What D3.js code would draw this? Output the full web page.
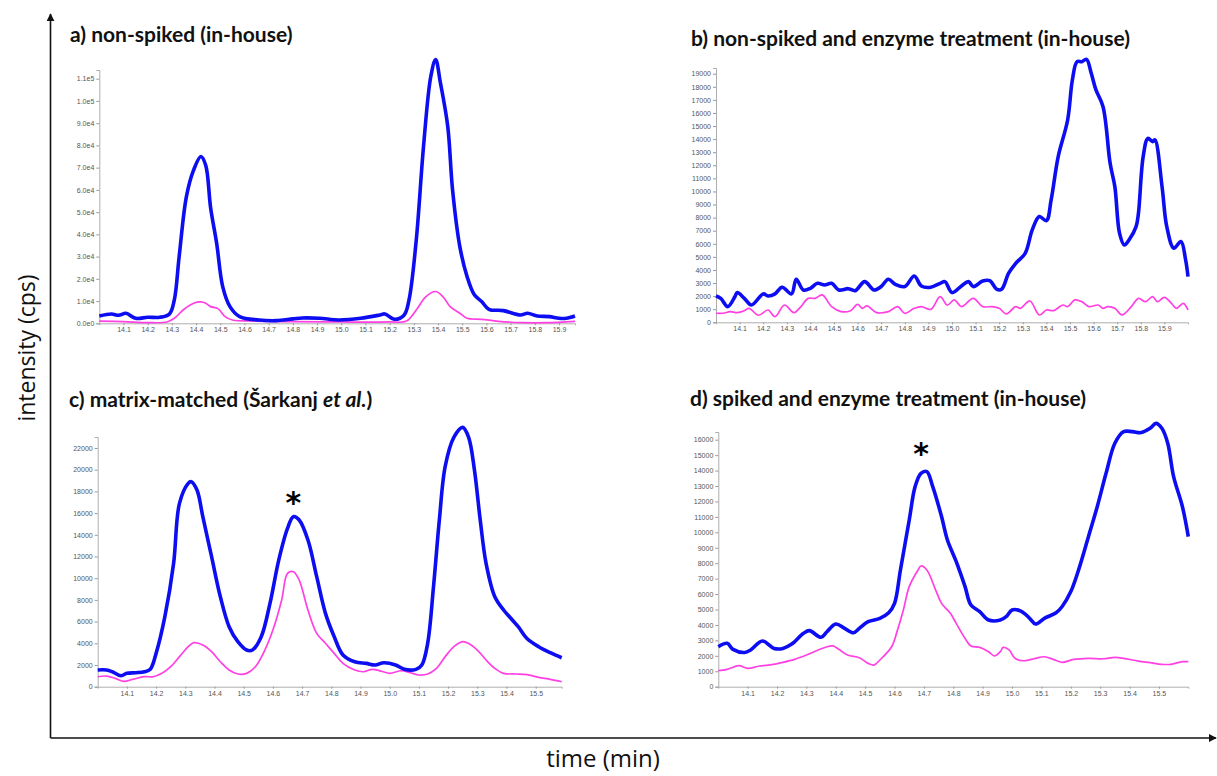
<!DOCTYPE html>
<html>
<head>
<meta charset="utf-8">
<script src="https://cdn.jsdelivr.net/npm/d3@7"></script>
<style>
  body { margin: 0; background: #fff; }
  svg { display: block; }
  .tick text { font-family: "Liberation Sans", Arial, sans-serif; font-size: 7px; }
  .title { font-family: Lato, "Open Sans", sans-serif; font-weight: bold; font-size: 21px; fill: #111; }
</style>
</head>
<body>
<svg id="chart" width="1217" height="776"></svg>
<script>
// ---- data (time in min, intensity in cps) ----

// a) non-spiked (in-house)
var aBlueT = [14.0,14.05,14.08,14.11,14.15,14.2,14.25,14.29,14.31,14.33,14.36,14.39,14.42,14.44,14.46,14.485,14.51,14.54,14.58,14.66,14.73,14.8,14.84,14.91,14.99,15.08,15.16,15.18,15.22,15.26,15.28,15.31,15.34,15.37,15.39,15.41,15.44,15.46,15.49,15.52,15.55,15.58,15.61,15.67,15.74,15.77,15.81,15.86,15.9,15.93,15.966];
var aBlueV = [3300,4200,3600,4500,2250,2700,2700,4200,10500,30000,57000,69000,75000,71000,52000,36000,16500,7500,3000,1500,1200,2000,2400,2250,1500,2250,3750,4200,1800,3750,10500,37500,79600,111000,118600,108000,88600,60000,34500,21000,12800,9800,6300,5700,3750,4500,3300,3000,2250,2250,3300];
var aPinkT = [14.0,14.1,14.2,14.28,14.31,14.35,14.39,14.42,14.44,14.46,14.49,14.52,14.55,14.65,14.8,15.0,15.2,15.27,15.31,15.35,15.39,15.42,15.45,15.49,15.52,15.58,15.65,15.75,15.85,15.966];
var aPinkV = [1000,750,300,600,2250,6300,9000,9600,9000,7500,6600,3000,1500,1000,750,600,600,1000,6000,12000,14300,12000,7500,4500,2250,1800,900,300,300,900];

// b) non-spiked and enzyme treatment (in-house)
var bBlueT = [14.0,14.02,14.05,14.08,14.09,14.12,14.15,14.2,14.22,14.25,14.28,14.32,14.34,14.37,14.4,14.43,14.46,14.49,14.52,14.56,14.59,14.63,14.67,14.7,14.73,14.76,14.8,14.84,14.87,14.91,14.95,14.97,15.0,15.04,15.07,15.09,15.13,15.16,15.19,15.21,15.24,15.27,15.31,15.34,15.37,15.4,15.42,15.45,15.49,15.51,15.53,15.55,15.57,15.59,15.61,15.64,15.67,15.69,15.71,15.73,15.75,15.78,15.79,15.81,15.83,15.85,15.86,15.89,15.91,15.94,15.97,15.99,16.0];
var bBlueV = [2010,1830,1200,1960,2270,1830,1320,2170,2010,2170,2680,2170,3290,2470,2600,2980,2850,2980,2470,2570,2420,3110,2470,2730,3290,2900,2730,3540,2780,2680,2980,3110,2270,2780,3110,2730,3160,3180,2520,2520,3750,4510,5270,7060,8080,7770,9350,12660,15460,18520,19920,19920,20100,19030,17760,16480,12150,10370,6800,5910,6290,7310,8330,12660,14060,13810,13940,10370,7310,5660,6170,4760,3490];
var bPinkT = [14.0,14.03,14.06,14.09,14.12,14.14,14.18,14.22,14.25,14.29,14.33,14.36,14.39,14.42,14.45,14.49,14.53,14.57,14.6,14.62,14.64,14.68,14.73,14.77,14.8,14.84,14.87,14.91,14.95,14.98,15.01,15.04,15.09,15.13,15.17,15.2,15.23,15.27,15.29,15.33,15.37,15.4,15.43,15.47,15.49,15.52,15.55,15.58,15.62,15.64,15.66,15.69,15.72,15.76,15.79,15.82,15.85,15.87,15.9,15.93,15.95,15.98,16.0];
var bPinkV = [690,690,820,740,890,1070,540,940,430,1320,740,1200,1830,1830,2090,1200,820,890,1380,1070,1250,740,820,1200,690,1070,1200,990,1960,1320,1710,1200,1830,1200,1200,1070,640,1200,1070,1630,560,940,890,1320,1200,1710,1580,1200,1320,1070,1200,1070,560,1200,1830,1580,1960,1580,1910,1450,1070,1450,940];

// c) matrix-matched (Sarkanj et al.)
var cBlueT = [14.0,14.03,14.05,14.08,14.1,14.13,14.16,14.18,14.2,14.23,14.26,14.28,14.31,14.32,14.34,14.36,14.39,14.42,14.45,14.48,14.51,14.53,14.56,14.59,14.62,14.65,14.67,14.69,14.72,14.75,14.78,14.81,14.84,14.88,14.92,14.95,14.98,15.02,15.05,15.09,15.11,15.13,15.15,15.17,15.19,15.22,15.25,15.27,15.29,15.31,15.33,15.36,15.39,15.41,15.44,15.47,15.51,15.55,15.589];
var cBlueV = [1540,1540,1380,1010,1230,1290,1380,1600,3070,6450,11370,16900,18740,18900,18130,15670,11980,8290,5530,4150,3380,3380,4610,7680,11670,14590,15670,15360,13520,10140,6760,4610,2920,2300,2150,2000,2210,2000,1600,1600,2000,4000,9220,15360,20300,23000,23900,23000,20000,15360,11370,8290,7070,6450,5530,4450,3690,3130,2670];
var cPinkT = [14.0,14.03,14.06,14.09,14.12,14.16,14.19,14.22,14.25,14.28,14.31,14.33,14.36,14.39,14.42,14.45,14.48,14.51,14.54,14.57,14.6,14.63,14.65,14.67,14.69,14.72,14.75,14.78,14.81,14.84,14.88,14.91,14.94,14.97,15.0,15.04,15.07,15.1,15.13,15.16,15.19,15.22,15.25,15.27,15.3,15.33,15.36,15.39,15.43,15.47,15.51,15.55,15.589];
var cPinkV = [920,980,770,490,680,920,920,1230,1840,2770,3690,4060,3840,3230,2300,1540,1170,1230,1840,3230,5220,7990,10450,10600,9830,7070,4920,4000,3070,2150,1540,1380,1600,1440,1230,1470,1290,1080,1170,1690,2770,3690,4150,3990,3380,2460,1690,1230,1170,1110,860,680,460];

// d) spiked and enzyme treatment (in-house)
var dBlueT = [14.0,14.03,14.05,14.09,14.11,14.15,14.19,14.22,14.25,14.29,14.31,14.35,14.37,14.4,14.43,14.46,14.48,14.51,14.55,14.58,14.6,14.62,14.65,14.67,14.69,14.71,14.73,14.76,14.78,14.81,14.84,14.86,14.89,14.92,14.96,14.98,15.0,15.03,15.06,15.08,15.11,15.15,15.17,15.2,15.23,15.26,15.29,15.32,15.35,15.38,15.41,15.44,15.47,15.49,15.51,15.53,15.55,15.58,15.6];
var dBlueV = [2590,2810,2420,2220,2380,2960,2480,2480,2760,3460,3630,3200,3560,4060,3780,3500,3780,4210,4430,4790,5400,7560,10800,12960,13820,13930,12960,11020,9500,8100,6480,5290,4860,4320,4320,4540,4970,4900,4430,4060,4430,4790,5180,6160,7780,9720,11660,13820,15770,16520,16520,16460,16740,17060,16740,15770,13610,11660,9720];
var dPinkT = [14.0,14.03,14.07,14.1,14.14,14.17,14.22,14.26,14.3,14.34,14.37,14.39,14.41,14.44,14.48,14.51,14.53,14.55,14.59,14.61,14.63,14.65,14.68,14.69,14.71,14.74,14.76,14.79,14.81,14.84,14.86,14.89,14.92,14.94,14.96,14.97,14.99,15.01,15.04,15.08,15.11,15.14,15.17,15.21,15.26,15.31,15.35,15.38,15.43,15.47,15.51,15.54,15.58,15.6];
var dPinkV = [1040,1120,1360,1190,1340,1400,1580,1770,2050,2380,2590,2640,2420,2050,1880,1510,1400,1730,2590,3670,4970,6480,7560,7820,7560,6260,5400,4750,4100,3130,2640,2550,2270,1990,2270,2550,2380,1840,1680,1840,1940,1770,1580,1770,1840,1810,1900,1840,1660,1560,1450,1450,1620,1620];

// tick values
var aYTicks = d3.range(0, 110001, 10000);
var bYTicks = d3.range(0, 19001, 1000);
var cYTicks = d3.range(0, 22001, 2000);
var dYTicks = d3.range(0, 16001, 1000);
var abXTicks = d3.range(141, 160).map(function(d){ return d / 10; });
var cdXTicks = d3.range(141, 156).map(function(d){ return d / 10; });

var titles = ["a) non-spiked (in-house)", "b) non-spiked and enzyme treatment (in-house)",
              "c) matrix-matched (", "d) spiked and enzyme treatment (in-house)"];

// ---- layout ----
var svg = d3.select("#chart");
var blue = "#0d0df2", pink = "#ff40e3";

var panels = [
  {left: 99.3, right: 575, base: 323.3, refY: 78.7, refV: 110000, top: 70, xDom: [14.0, 15.966],
   yTicks: aYTicks, xTicks: abXTicks, fmt: function(v){ return d3.format(".1e")(v).replace("+", ""); },
   series: [[aPinkT, aPinkV, pink, 1.7], [aBlueT, aBlueV, blue, 3.6]],
   tx: 70, ty: 42},
  {left: 716, right: 1188, base: 322.3, refY: 73.7, refV: 19000, top: 68, xDom: [14.0, 16.0],
   yTicks: bYTicks, xTicks: abXTicks, fmt: d3.format("d"),
   series: [[bPinkT, bPinkV, pink, 1.7], [bBlueT, bBlueV, blue, 3.6]],
   tx: 691, ty: 46},
  {left: 97.7, right: 561.7, base: 686.7, refY: 448, refV: 22000, top: 437, xDom: [14.0, 15.589],
   yTicks: cYTicks, xTicks: cdXTicks, fmt: d3.format("d"),
   series: [[cPinkT, cPinkV, pink, 1.7], [cBlueT, cBlueV, blue, 3.6]],
   tx: 69, ty: 407, star: [14.67, 18100]},
  {left: 718.3, right: 1188.3, base: 686.7, refY: 439.7, refV: 16000, top: 432, xDom: [14.0, 15.6],
   yTicks: dYTicks, xTicks: cdXTicks, fmt: d3.format("d"),
   series: [[dPinkT, dPinkV, pink, 1.7], [dBlueT, dBlueV, blue, 3.6]],
   tx: 690, ty: 406, star: [14.69, 15900]}
];

panels.forEach(function(p, i) {
  var topV = p.refV * (p.base - p.top) / (p.base - p.refY);
  var x = d3.scaleLinear().domain(p.xDom).range([p.left, p.right]);
  var y = d3.scaleLinear().domain([0, topV]).range([p.base, p.top]);
  var g = svg.append("g");

  var yAxis = g.append("g")
    .attr("transform", "translate(" + p.left + ",0)")
    .call(d3.axisLeft(y).tickValues(p.yTicks).tickFormat(p.fmt).tickSize(3).tickPadding(2));
  var xAxis = g.append("g")
    .attr("transform", "translate(0," + p.base + ")")
    .call(d3.axisBottom(x).tickValues(p.xTicks).tickFormat(d3.format(".1f")).tickSize(2).tickPadding(2));
  [yAxis, xAxis].forEach(function(a) {
    a.select(".domain").attr("stroke", "#999").attr("stroke-width", 0.8);
    a.selectAll(".tick line").attr("stroke", "#999");
    a.selectAll(".tick text").attr("fill", "#555");
  });

  p.series.forEach(function(s) {
    var pts = d3.zip(s[0], s[1]);
    g.append("path")
      .datum(pts)
      .attr("fill", "none")
      .attr("stroke", s[2])
      .attr("stroke-width", s[3])
      .attr("stroke-linejoin", "round")
      .attr("d", d3.line()
        .x(function(d){ return x(d[0]); })
        .y(function(d){ return y(d[1]); })
        .curve(d3.curveCatmullRom.alpha(0.5)));
  });

  var t = svg.append("text").attr("class", "title").attr("x", p.tx).attr("y", p.ty);
  if (i === 2) {
    t.append("tspan").text(titles[2] + "Šarkanj ");
    t.append("tspan").attr("font-style", "italic").text("et al.");
    t.append("tspan").text(")");
  } else {
    t.text(titles[i]);
  }

  if (p.star) {
    svg.append("text")
      .attr("x", x(p.star[0])).attr("y", y(p.star[1]))
      .attr("text-anchor", "middle")
      .attr("font-family", "DejaVu Sans, sans-serif")
      .attr("font-weight", "bold")
      .attr("font-size", 30)
      .attr("dy", "0.75em")
      .text("*");
  }
});

// ---- outer axes with arrows ----
svg.append("defs").append("marker")
  .attr("id", "arrow")
  .attr("viewBox", "0 0 10 10")
  .attr("refX", 9).attr("refY", 5)
  .attr("markerWidth", 8).attr("markerHeight", 8)
  .attr("markerUnits", "userSpaceOnUse")
  .attr("orient", "auto")
  .append("path").attr("d", "M0,0L10,5L0,10Z").attr("fill", "#111");

svg.append("line")
  .attr("x1", 50.5).attr("y1", 738).attr("x2", 50.5).attr("y2", 14)
  .attr("stroke", "#111").attr("stroke-width", 1.6)
  .attr("marker-end", "url(#arrow)");
svg.append("line")
  .attr("x1", 50.5).attr("y1", 738).attr("x2", 1216).attr("y2", 738)
  .attr("stroke", "#111").attr("stroke-width", 1.6)
  .attr("marker-end", "url(#arrow)");

svg.append("text")
  .attr("transform", "translate(35,348) rotate(-90)")
  .attr("text-anchor", "middle")
  .attr("font-family", "Open Sans, sans-serif")
  .attr("font-size", 23)
  .attr("fill", "#111")
  .text("intensity (cps)");

svg.append("text")
  .attr("x", 603).attr("y", 767)
  .attr("text-anchor", "middle")
  .attr("font-family", "Open Sans, sans-serif")
  .attr("font-size", 24)
  .attr("fill", "#111")
  .text("time (min)");
</script>
</body>
</html>
